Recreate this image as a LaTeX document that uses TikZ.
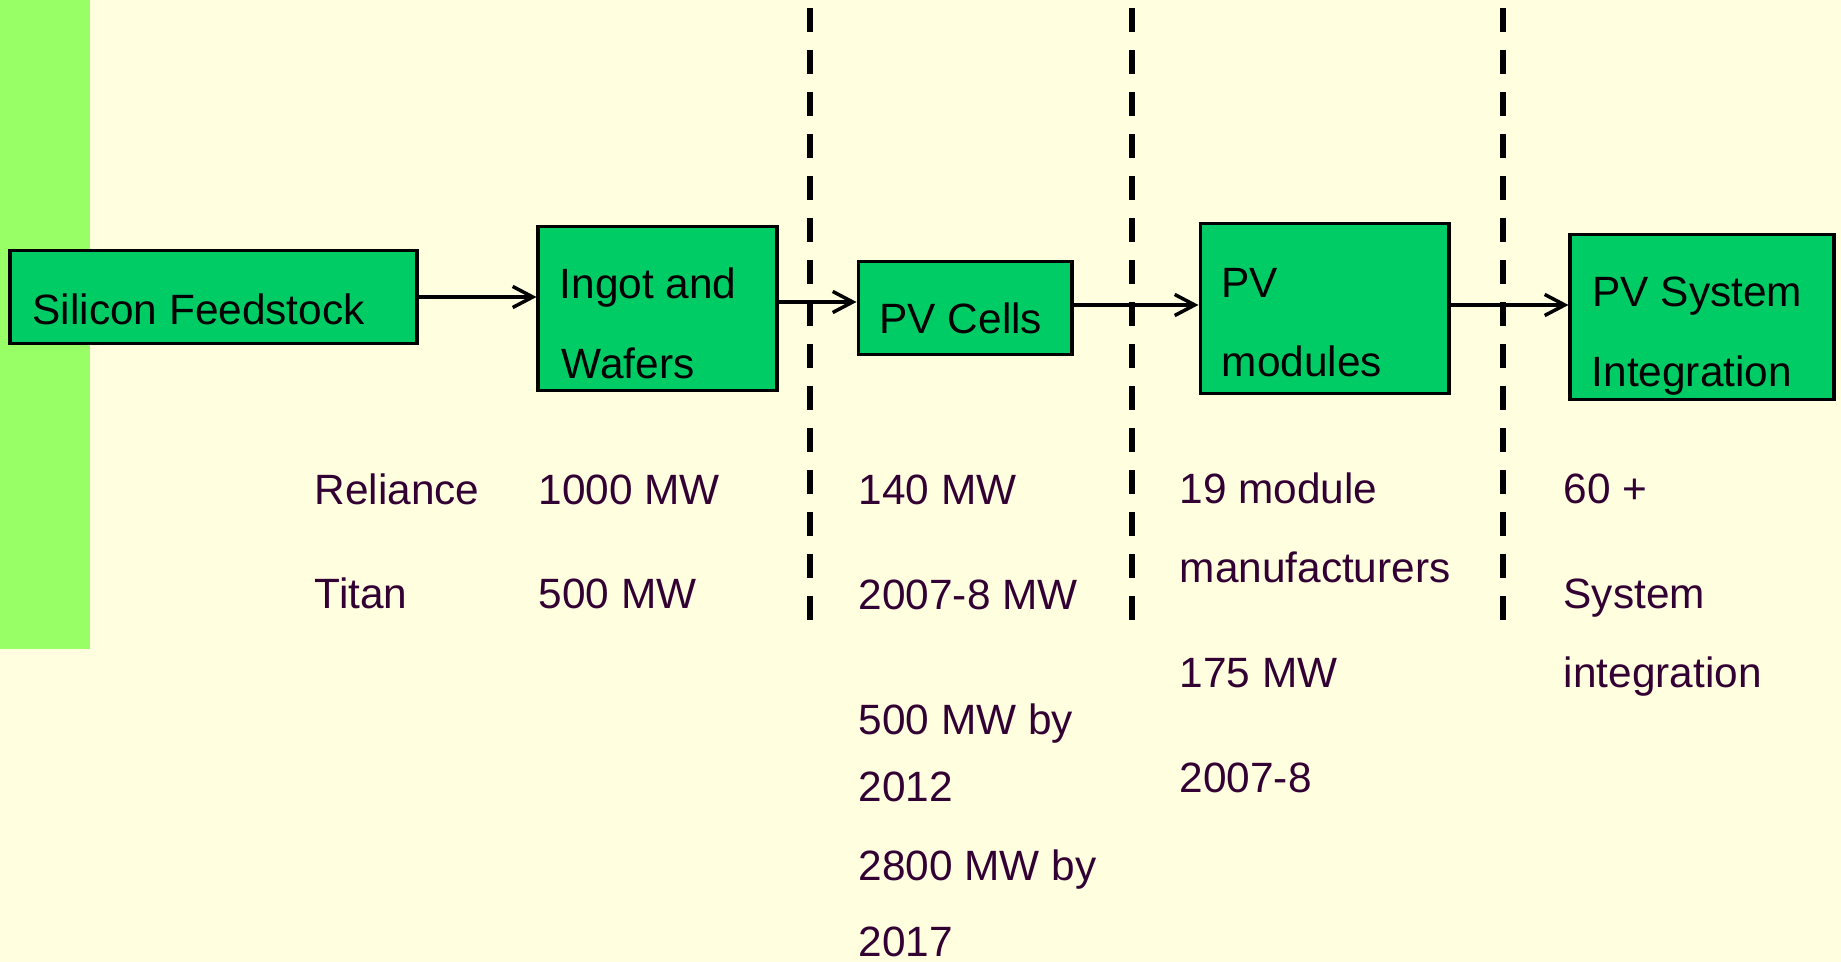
\documentclass[tikz,border=0pt]{standalone}
\usepackage{fontspec}
\setmainfont{Liberation Sans}
\usetikzlibrary{arrows.meta,calc}
\definecolor{bgcream}{RGB}{255,255,224}
\definecolor{stripgreen}{RGB}{153,255,102}
\definecolor{boxgreen}{RGB}{0,204,102}
\definecolor{txtpurple}{RGB}{51,0,51}
\begin{document}
\begin{tikzpicture}[x=0.01cm,y=-0.01cm,
  stagebox/.style={draw=black, line width=1.1pt, fill=boxgreen, rectangle, inner sep=0pt},
  boxtext/.style={anchor=base west, inner sep=0pt, text=black, font=\fontsize{12.05pt}{14pt}\selectfont},
  datatext/.style={boxtext, text=txtpurple},
  flow/.style={line width=1pt, -{Straight Barb[length=5.7pt,width=6pt]}},
  divider/.style={line width=1.7pt, dash pattern=on 6.83pt off 5.12pt}]
% background
\fill[bgcream] (0,0) rectangle (1841,962);
\useasboundingbox (0,0) rectangle (1841,962);
\fill[stripgreen] (0,0) rectangle (90,649);
% dividers
\draw[divider] (810,8) -- (810,620);
\draw[divider] (1132,8) -- (1132,620);
\draw[divider] (1503,8) -- (1503,620);
% boxes
\node[stagebox, minimum width=4.06cm, minimum height=0.93cm] (sil) at (213.5,297) {};
\node[stagebox, minimum width=2.38cm, minimum height=1.64cm] (ingot) at (657.5,308.5) {};
\node[stagebox, minimum width=2.13cm, minimum height=0.93cm] (cells) at (965,308) {};
\node[stagebox, minimum width=2.48cm, minimum height=1.70cm] (mods) at (1324.5,308.5) {};
\node[stagebox, minimum width=2.63cm, minimum height=1.65cm] (sys) at (1702,317) {};
% box texts
\node[boxtext] (tsil) at (32,325) {Silicon Feedstock};
\node[boxtext] (tingot1) at (559,299) {Ingot and};
\node[boxtext] (tingot2) at (561,379) {Wafers};
\node[boxtext] (tcells) at (879,334) {PV Cells};
\node[boxtext] (tmods1) at (1221,298) {PV};
\node[boxtext] (tmods2) at (1221,377) {modules};
\node[boxtext] (tsys1) at (1592,307) {PV System};
\node[boxtext] (tsys2) at (1591,387) {Integration};
% arrows
\coordinate (a2s) at ($(ingot.east)+(0,-6.5)$);
\coordinate (a3s) at ($(cells.east)+(0,-3)$);
\coordinate (a4s) at ($(mods.east)+(0,-3.5)$);
\draw[flow] (sil.east) -- (ingot.west |- sil.east);
\draw[flow] (a2s) -- (cells.west |- a2s);
\draw[flow] (a3s) -- (mods.west |- a3s);
\draw[flow] (a4s) -- (sys.west |- a4s);
% data columns
\node[datatext] (d11) at (314,505) {Reliance};
\node[datatext] (d12) at (314,609) {Titan};
\node[datatext] (d21) at (538,505) {1000 MW};
\node[datatext] (d22) at (538,609) {500 MW};
\node[datatext] (d31) at (858,505) {140 MW};
\node[datatext] (d32) at (858,610) {2007-8 MW};
\node[datatext] (d33) at (858,735) {500 MW by};
\node[datatext] (d34) at (858,802) {2012};
\node[datatext] (d35) at (858,881) {2800 MW by};
\node[datatext] (d36) at (858,957) {2017};
\node[datatext] (d41) at (1179,504) {19 module};
\node[datatext] (d42) at (1179,583) {manufacturers};
\node[datatext] (d43) at (1179,688) {175 MW};
\node[datatext] (d44) at (1179,793) {2007-8};
\node[datatext] (d51) at (1563,504) {60 +};
\node[datatext] (d52) at (1563,609) {System};
\node[datatext] (d53) at (1563,688) {integration};
\end{tikzpicture}
\end{document}
